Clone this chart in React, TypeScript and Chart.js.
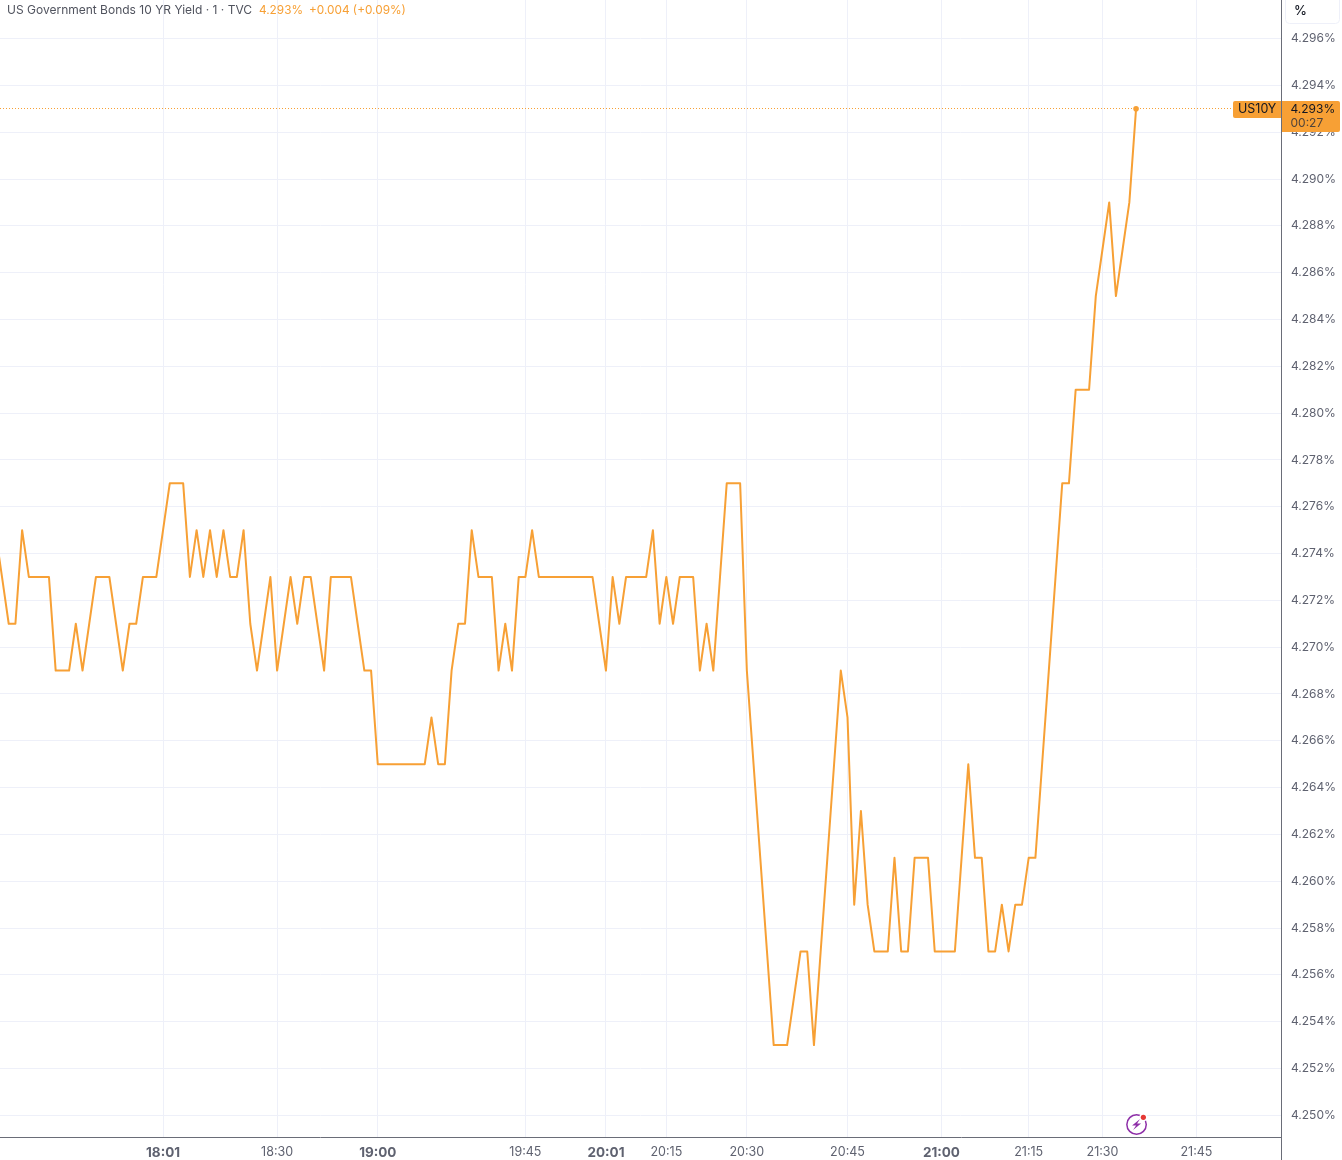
import React, { useEffect, useRef } from "react";
import { Chart, registerables } from "chart.js";

Chart.register(...registerables);

const yields = [
  4.275, 4.273, 4.271, 4.271, 4.275, 4.273, 4.273, 4.273, 4.273, 4.269,
  4.269, 4.269, 4.271, 4.269, 4.271, 4.273, 4.273, 4.273, 4.271, 4.269,
  4.271, 4.271, 4.273, 4.273, 4.273, 4.275, 4.277, 4.277, 4.277, 4.273,
  4.275, 4.273, 4.275, 4.273, 4.275, 4.273, 4.273, 4.275, 4.271, 4.269,
  4.271, 4.273, 4.269, 4.271, 4.273, 4.271, 4.273, 4.273, 4.271, 4.269,
  4.273, 4.273, 4.273, 4.273, 4.271, 4.269, 4.269, 4.265, 4.265, 4.265,
  4.265, 4.265, 4.265, 4.265, 4.265, 4.267, 4.265, 4.265, 4.269, 4.271,
  4.271, 4.275, 4.273, 4.273, 4.273, 4.269, 4.271, 4.269, 4.273, 4.273,
  4.275, 4.273, 4.273, 4.273, 4.273, 4.273, 4.273, 4.273, 4.273, 4.273,
  4.271, 4.269, 4.273, 4.271, 4.273, 4.273, 4.273, 4.273, 4.275, 4.271,
  4.273, 4.271, 4.273, 4.273, 4.273, 4.269, 4.271, 4.269, 4.273, 4.277,
  4.277, 4.277, 4.269, 4.265, 4.261, 4.257, 4.253, 4.253, 4.253, 4.255,
  4.257, 4.257, 4.253, 4.257, 4.261, 4.265, 4.269, 4.267, 4.259, 4.263,
  4.259, 4.257, 4.257, 4.257, 4.261, 4.257, 4.257, 4.261, 4.261, 4.261,
  4.257, 4.257, 4.257, 4.257, 4.261, 4.265, 4.261, 4.261, 4.257, 4.257,
  4.259, 4.257, 4.259, 4.259, 4.261, 4.261, 4.265, 4.269, 4.273, 4.277,
  4.277, 4.281, 4.281, 4.281, 4.285, 4.287, 4.289, 4.285, 4.287, 4.289,
  4.293,
];

const timeLabels = ["18:01", "18:30", "19:00", "19:45", "20:01", "20:15", "20:30", "20:45", "21:00", "21:15", "21:30", "21:45"];
const timeTickBars = [25, 42, 57, 79, 91, 100, 112, 127, 141, 154, 165, 179];
const boldLabels = ["18:01", "19:00", "20:01", "21:00"];
const yTicks = [
  4.25, 4.252, 4.254, 4.256, 4.258, 4.26, 4.262, 4.264, 4.266, 4.268, 4.27, 4.272,
  4.274, 4.276, 4.278, 4.28, 4.282, 4.284, 4.286, 4.288, 4.29, 4.292, 4.294, 4.296,
];

const titleText = "US Government Bonds 10 YR Yield · 1 · TVC";
const lastPriceText = "4.293%";
const changeText = "+0.004 (+0.09%)";
const symbolText = "US10Y";
const countdownText = "00:27";
const unitText = "%";

const ORANGE = "#F7A035";
const FONT = "Inter, 'Noto Sans', sans-serif";
const AXIS = "#6A6D78";
const TEXT = "#5F6270";
const GRID = "#EEF0F9";

const decorations = {
  id: "decorations",
  beforeDatasetsDraw(chart: any) {
    const { ctx, scales } = chart;
    const y = scales.y.getPixelForValue(yields[yields.length - 1]);
    ctx.save();
    ctx.strokeStyle = ORANGE;
    ctx.lineWidth = 1;
    ctx.setLineDash([1, 2]);
    ctx.beginPath();
    ctx.moveTo(0, Math.floor(y) + 0.5);
    ctx.lineTo(1233, Math.floor(y) + 0.5);
    ctx.stroke();
    ctx.restore();
  },
  afterDraw(chart: any) {
    const { ctx, scales } = chart;
    const y = Math.round(scales.y.getPixelForValue(yields[yields.length - 1]));
    const lastX = scales.x.getPixelForValue(yields.length - 1);
    ctx.save();

    // axis line through the corner
    ctx.strokeStyle = AXIS;
    ctx.lineWidth = 1;
    ctx.beginPath();
    ctx.moveTo(1281.5, 0);
    ctx.lineTo(1281.5, 1160);
    ctx.stroke();

    // legend
    ctx.textBaseline = "middle";
    ctx.textAlign = "left";
    ctx.font = `12px ${FONT}`;
    ctx.fillStyle = "#50535E";
    ctx.fillText(titleText, 7, 10);
    ctx.font = `11.8px ${FONT}`;
    ctx.fillStyle = ORANGE;
    ctx.fillText(lastPriceText, 259, 10);
    ctx.fillText(changeText, 309, 10);

    // unit button
    ctx.strokeStyle = GRID;
    ctx.beginPath();
    ctx.roundRect(1285.5, -4, 54, 27.5, 4);
    ctx.stroke();
    ctx.fillStyle = "#131722";
    ctx.font = `500 13px ${FONT}`;
    ctx.fillText(unitText, 1294, 11);

    // last value labels
    ctx.fillStyle = ORANGE;
    ctx.beginPath();
    ctx.roundRect(1233, y - 8, 48, 17, [2, 0, 0, 2]);
    ctx.fill();
    ctx.beginPath();
    ctx.roundRect(1282, y - 8, 58, 31, [0, 2, 2, 0]);
    ctx.fill();
    ctx.font = `12.5px ${FONT}`;
    ctx.fillStyle = "#131722";
    ctx.fillText(symbolText, 1238, y);
    ctx.font = `12px ${FONT}`;
    ctx.fillText(lastPriceText, 1290.5, y);
    ctx.fillStyle = "#50433A";
    ctx.fillText(countdownText, 1290.5, y + 14);

    // flash icon
    const cx = lastX + 0.5;
    const cy = 1124.5;
    ctx.strokeStyle = "#8E2FA8";
    ctx.lineWidth = 1.5;
    ctx.beginPath();
    ctx.arc(cx, cy, 9.7, 0, Math.PI * 2);
    ctx.stroke();
    ctx.fillStyle = "#8E2FA8";
    ctx.beginPath();
    ctx.moveTo(cx + 3.5, cy - 5.5);
    ctx.lineTo(cx - 4.5, cy + 1);
    ctx.lineTo(cx - 0.5, cy + 1);
    ctx.lineTo(cx - 3.5, cy + 5.5);
    ctx.lineTo(cx + 4.5, cy - 1);
    ctx.lineTo(cx + 0.5, cy - 1);
    ctx.closePath();
    ctx.fill();
    ctx.fillStyle = "#FFFFFF";
    ctx.beginPath();
    ctx.arc(cx + 6.8, cy - 7.2, 4, 0, Math.PI * 2);
    ctx.fill();
    ctx.fillStyle = "#E53935";
    ctx.beginPath();
    ctx.arc(cx + 6.8, cy - 7.2, 2.6, 0, Math.PI * 2);
    ctx.fill();
    ctx.restore();
  },
};

const noEdgePadding = (s: any) => {
  s.paddingLeft = 0;
  s.paddingRight = 0;
  s.paddingTop = 0;
  s.paddingBottom = 0;
};

const isBoldTick = (value: number) => boldLabels.includes(timeLabels[timeTickBars.indexOf(value)]);

export default function App() {
  const ref = useRef<HTMLCanvasElement | null>(null);

  useEffect(() => {
    const chart = new Chart(ref.current as HTMLCanvasElement, {
      type: "line",
      data: {
        datasets: [
          {
            data: yields.map((v, i) => ({ x: i, y: v })),
            borderColor: ORANGE,
            backgroundColor: ORANGE,
            borderWidth: 2,
            tension: 0,
            fill: false,
            borderJoinStyle: "round",
            pointRadius: (c: any) => (c.dataIndex === yields.length - 1 ? 2.8 : 0),
            pointBorderWidth: 0,
            pointHoverRadius: 0,
          },
        ],
      },
      options: {
        responsive: false,
        animation: false,
        devicePixelRatio: 1,
        layout: { padding: 0, autoPadding: false },
        plugins: { legend: { display: false }, title: { display: false }, tooltip: { enabled: false } },
        events: [],
        scales: {
          x: {
            type: "linear",
            min: 0.702,
            max: 191.6,
            afterBuildTicks: (s: any) => {
              s.ticks = timeTickBars.map((value) => ({ value }));
            },
            afterFit: (s: any) => {
              s.height = 23;
              noEdgePadding(s);
            },
            grid: { color: GRID, lineWidth: 1, drawTicks: false },
            border: { color: AXIS, width: 1 },
            ticks: {
              autoSkip: false,
              maxRotation: 0,
              padding: 8,
              color: TEXT,
              font: (c: any) => ({
                family: FONT,
                size: isBoldTick(c.tick?.value) ? 13.5 : 12.5,
                weight: isBoldTick(c.tick?.value) ? "700" : "400",
              }),
              callback: (v: any) => timeLabels[timeTickBars.indexOf(v)],
            },
          },
          y: {
            type: "linear",
            position: "right",
            min: 4.249073,
            max: 4.297649,
            afterBuildTicks: (s: any) => {
              s.ticks = yTicks.map((value) => ({ value }));
            },
            afterFit: (s: any) => {
              s.width = 61;
              noEdgePadding(s);
            },
            grid: { color: GRID, lineWidth: 1, drawTicks: false },
            border: { color: AXIS, width: 1 },
            ticks: {
              autoSkip: false,
              padding: 10,
              color: TEXT,
              font: { family: FONT, size: 12 },
              callback: (v: any) => `${Number(v).toFixed(3)}%`,
            },
          },
        },
      },
      plugins: [decorations],
    } as any);
    return () => chart.destroy();
  }, []);

  return (
    <div style={{ position: "absolute", left: 0, top: 0, width: 1342, height: 1160, background: "#fff" }}>
      <canvas ref={ref} width={1342} height={1160} style={{ display: "block" }} />
    </div>
  );
}
